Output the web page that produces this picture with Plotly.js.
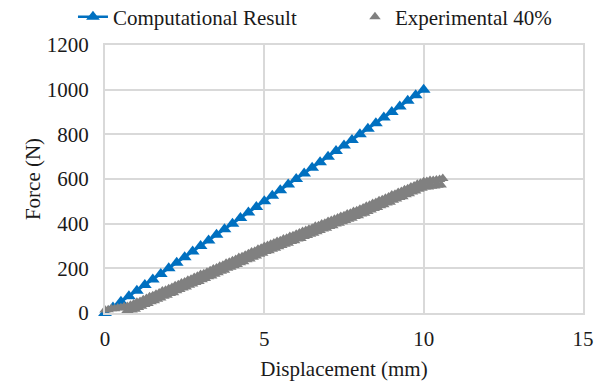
<!DOCTYPE html>
<html>
<head>
<meta charset="utf-8">
<script src="https://cdn.plot.ly/plotly-3.0.1.min.js"></script>
<style>html,body{margin:0;padding:0;background:#fff;}#chart{width:601px;height:385px;}</style>
</head>
<body>
<div id="chart"></div>
<script>
// Computational result (displacement mm, force N)
var compX = [0,0.25,0.5,0.75,1,1.25,1.5,1.75,2,2.25,2.5,2.75,3,3.25,3.5,3.75,4,4.25,4.5,4.75,5,5.25,5.5,5.75,6,6.25,6.5,6.75,7,7.25,7.5,7.75,8,8.25,8.5,8.75,9,9.25,9.5,9.75,10];
var compY = [0,25,50,75,100,125,150,175,200,225,250,275,300,325,350,375,400,425,450,475,500,525,550,575,600,625,650,675,700,725,750,775,800,825,850,875,900,925,950,975,1000];

// Experimental 40% (displacement mm, force N) - dense noisy test record
var expX = [0,0.05,0.1,0.15,0.2,0.25,0.3,0.35,0.4,0.45,0.5,0.55,0.6,0.65,0.7,0.75,0.8,0.85,0.9,0.95,
1,1.05,1.1,1.15,1.2,1.25,1.3,1.35,1.4,1.45,1.5,1.55,1.6,1.65,1.7,1.75,1.8,1.85,1.9,1.95,
2,2.05,2.1,2.15,2.2,2.25,2.3,2.35,2.4,2.45,2.5,2.55,2.6,2.65,2.7,2.75,2.8,2.85,2.9,2.95,
3,3.05,3.1,3.15,3.2,3.25,3.3,3.35,3.4,3.45,3.5,3.55,3.6,3.65,3.7,3.75,3.8,3.85,3.9,3.95,
4,4.05,4.1,4.15,4.2,4.25,4.3,4.35,4.4,4.45,4.5,4.55,4.6,4.65,4.7,4.75,4.8,4.85,4.9,4.95,
5,5.05,5.1,5.15,5.2,5.25,5.3,5.35,5.4,5.45,5.5,5.55,5.6,5.65,5.7,5.75,5.8,5.85,5.9,5.95,
6,6.05,6.1,6.15,6.2,6.25,6.3,6.35,6.4,6.45,6.5,6.55,6.6,6.65,6.7,6.75,6.8,6.85,6.9,6.95,
7,7.05,7.1,7.15,7.2,7.25,7.3,7.35,7.4,7.45,7.5,7.55,7.6,7.65,7.7,7.75,7.8,7.85,7.9,7.95,
8,8.05,8.1,8.15,8.2,8.25,8.3,8.35,8.4,8.45,8.5,8.55,8.6,8.65,8.7,8.75,8.8,8.85,8.9,8.95,
9,9.05,9.1,9.15,9.2,9.25,9.3,9.35,9.4,9.45,9.5,9.55,9.6,9.65,9.7,9.75,9.8,9.85,9.9,9.95,
10,10.05,10.1,10.15,10.2,10.25,10.3,10.35,10.4,10.45,10.5,10.55,10.6];
var expY = [13,-8,15,-8,19,-6,19,-5,22,-2,23,-2,28,3,29,6,35,13,40,17,
48,25,52,30,59,38,65,42,73,50,77,55,84,62,89,67,98,75,102,80,
109,87,114,91,122,100,127,105,134,112,139,116,147,124,151,130,159,137,164,141,
172,149,176,154,183,162,189,166,197,174,202,180,209,187,214,191,223,200,227,205,
234,212,240,217,248,225,252,230,259,238,265,242,273,250,277,255,285,263,290,267,
298,275,302,279,308,286,313,290,320,297,324,302,331,308,335,312,343,320,346,324,
353,331,358,334,365,342,369,347,375,353,380,357,388,364,391,369,398,376,402,379,
410,387,414,391,420,398,425,402,432,409,436,414,443,420,447,424,455,432,458,436,
465,443,470,447,478,455,482,461,490,468,495,472,503,480,507,485,514,492,519,496,
528,505,532,510,539,517,544,521,552,529,556,534,564,542,569,546,577,554,581,559,
588,564,589,564,593,568,593,569,596,572,598,573,602];

var xTicks = [0,5,10,15];
var yTicks = [0,200,400,600,800,1000,1200];

var FONT = "'Liberation Serif', 'Times New Roman', serif";
var GRID = '#d9d9d9';
var TXT = '#1a1a1a';
var FS = 21;

var traces = [
  {
    x: compX, y: compY, name: 'Computational Result', type: 'scatter', mode: 'lines+markers',
    line: {color: '#0070C0', width: 2.5},
    marker: {symbol: 'triangle-up', size: 12, color: '#0070C0'},
    cliponaxis: false
  },
  {
    x: expX, y: expY, name: 'Experimental 40%', type: 'scatter', mode: 'markers',
    marker: {symbol: 'triangle-up', size: 10, color: '#808080'},
    cliponaxis: false
  }
];

var layout = {
  width: 601, height: 385,
  margin: {l: 105, r: 18, t: 45, b: 72, pad: 0, autoexpand: false},
  paper_bgcolor: '#ffffff', plot_bgcolor: '#ffffff',
  font: {family: FONT, size: FS, color: TXT},
  showlegend: true,
  legend: {
    orientation: 'h', x: -0.067, xanchor: 'left', y: 1.1045, yanchor: 'middle',
    entrywidth: 237, entrywidthmode: 'pixels',
    font: {family: FONT, size: FS, color: TXT},
    bgcolor: 'rgba(0,0,0,0)', borderwidth: 0
  },
  xaxis: {
    range: [0, 15], tickvals: xTicks, ticktext: xTicks.map(String),
    showgrid: true, gridcolor: GRID, gridwidth: 2,
    zeroline: false, showline: true, linecolor: GRID, linewidth: 2, mirror: true,
    ticks: 'outside', ticklen: 6, tickcolor: 'rgba(0,0,0,0)',
    tickfont: {family: FONT, size: FS, color: TXT},
    title: {text: 'Displacement (mm)', font: {family: FONT, size: FS, color: TXT}, standoff: 11},
    automargin: false, fixedrange: true
  },
  yaxis: {
    range: [0, 1200], tickvals: yTicks, ticktext: yTicks.map(String),
    showgrid: true, gridcolor: GRID, gridwidth: 2,
    zeroline: false, showline: true, linecolor: GRID, linewidth: 2, mirror: true,
    ticks: 'outside', ticklen: 10, tickcolor: 'rgba(0,0,0,0)',
    tickfont: {family: FONT, size: FS, color: TXT},
    title: {text: 'Force (N)', font: {family: FONT, size: FS, color: TXT}, standoff: 0},
    automargin: false, fixedrange: true
  }
};

Plotly.newPlot('chart', traces, layout, {staticPlot: true, displayModeBar: false});
</script>
</body>
</html>
